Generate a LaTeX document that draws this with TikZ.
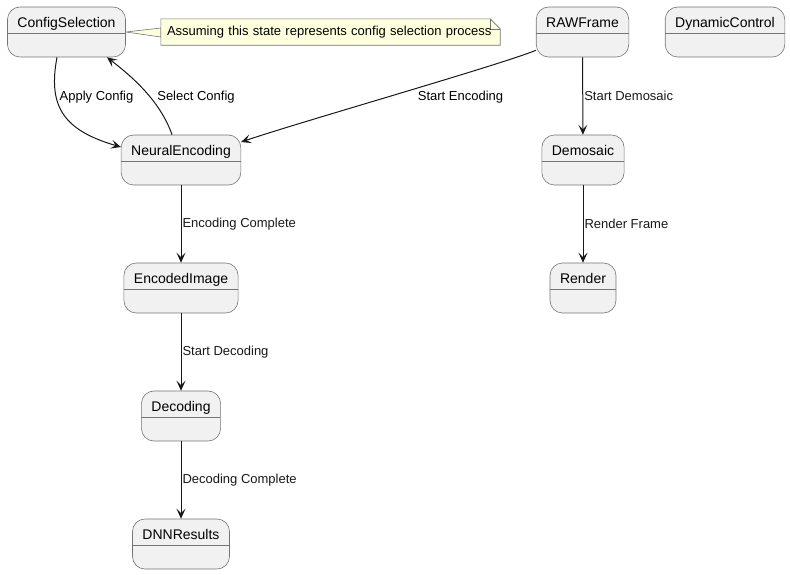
\documentclass[tikz,border=0pt]{standalone}
\usepackage{fontspec}
\setmainfont{Liberation Sans}
\usepackage{xcolor}
\usetikzlibrary{arrows.meta}
\usetikzlibrary{backgrounds}
\definecolor{statefill}{HTML}{F1F1F1}
\definecolor{lineblack}{HTML}{181818}
\definecolor{stateline}{HTML}{747474}
\definecolor{notefill}{HTML}{FEFFDD}

\begin{document}
\begin{tikzpicture}[x=1pt,y=-1pt,
	state/.style={draw=stateline,line width=0.6pt,fill=statefill,rounded corners=12.5pt,minimum height=50pt,inner xsep=10pt,inner ysep=0pt,text height=11pt,text depth=20pt,font=\fontsize{14pt}{16pt}\selectfont,
		path picture={\draw[stateline,line width=0.6pt] ([yshift=-1pt]path picture bounding box.west) -- ([yshift=-1pt]path picture bounding box.east);}},
	trans/.style={-{Stealth[length=10pt,width=9pt,inset=4.5pt]},line width=1pt,lineblack},
	lbl/.style={font=\fontsize{13pt}{15pt}\selectfont,inner sep=1pt},
	notebox/.style={fill=notefill,draw=stateline,line width=0.6pt}]
		\useasboundingbox (0,0) rectangle (790,574);
		% states
		\node[state] (cfg) at (66.5,32) {ConfigSelection};
		\node[state] (raw) at (582.5,32) {RAWFrame};
		\node[state] (dyn) at (725,32) {DynamicControl};
		\node[state] (enc) at (181,160) {NeuralEncoding};
		\node[state] (demo) at (583,160) {Demosaic};
		\node[state] (img) at (181,288) {EncodedImage};
		\node[state] (rend) at (583,288) {Render};
		\node[state] (dec) at (181,416) {Decoding};
		\node[state] (dnn) at (181,544) {DNNResults};
		% note
		\node[font=\fontsize{13pt}{15pt}\selectfont,text width=327pt,inner xsep=6pt,inner ysep=0pt,minimum height=26pt,align=left] (note) at (330.5,32) {Assuming this state represents config selection process};
		\begin{scope}[on background layer]
			\filldraw[notebox] (cfg.east) -- ([yshift=4pt]note.west) -- ([yshift=-5pt]note.west) -- cycle;
			\filldraw[notebox] (note.south west) -- (note.north west) -- ([xshift=-10pt]note.north east) -- ([yshift=-10pt]note.north east) -- (note.south east) -- cycle;
			\draw[notebox,fill=none] ([xshift=-10pt]note.north east) |- ([yshift=-10pt]note.north east);
		\end{scope}
		% transitions
		\draw[trans] ([xshift=-9.5pt]cfg.south) .. controls (48,105) and (62,130) .. ([yshift=13pt]enc.west);
		\draw[trans] ([xshift=-9pt]enc.north) .. controls (160,100) and (130,75) .. ([xshift=40.5pt]cfg.south);
		\draw[trans] ([yshift=7pt]raw.south west) .. controls (500,65) and (300,122) .. ([yshift=18pt]enc.east);
		\node[lbl] (lapply) at (96.5,97) {Apply Config};
		\node[lbl] (lselect) at (196,97) {Select Config};
		\node[lbl] (lstartenc) at (460.5,97) {Start Encoding};
		\draw[trans] (enc) -- (img) node[lbl,midway,right] (lenccomp) {Encoding Complete};
		\draw[trans] (img) -- (dec) node[lbl,midway,right] (lstartdec) {Start Decoding};
		\draw[trans] (dec) -- (dnn) node[lbl,midway,right] (ldeccomp) {Decoding Complete};
		\draw[trans] (raw) -- (demo) node[lbl,midway,right] (lstartdem) {Start Demosaic};
		\draw[trans] (demo) -- (rend) node[lbl,midway,right] (lrender) {Render Frame};
\end{tikzpicture}
\end{document}
